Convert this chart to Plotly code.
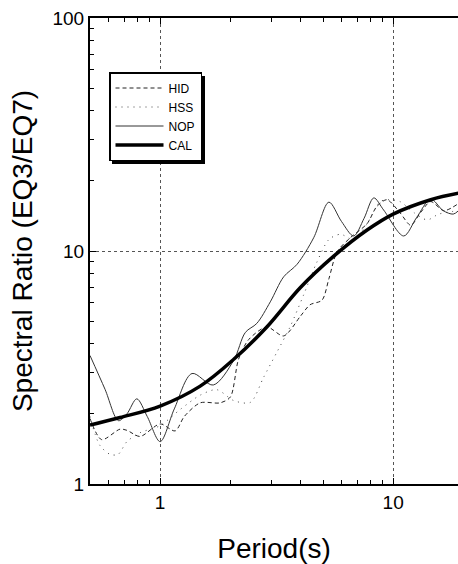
import math
import plotly.graph_objects as go

# Spectral ratio EQ3/EQ7 versus period (s) for three stations and the calculated curve
period_hid = [0.5, 0.561, 0.673, 0.72, 0.82, 1.0, 1.16, 1.27, 1.486, 1.81, 2.0, 2.17, 2.4, 2.87, 3.39, 4.0, 4.4, 4.95, 5.3, 5.75, 6.55, 7.73, 8.5, 9.4, 10.7, 11.9, 13.1, 14.5, 16.5, 19.1]
ratio_hid = [1.91, 1.55, 1.72, 1.70, 1.60, 1.81, 1.69, 1.95, 2.23, 2.23, 2.36, 3.43, 4.17, 4.72, 4.32, 5.25, 5.88, 6.15, 7.6, 9.93, 11.4, 13.1, 15.5, 16.6, 14.6, 12.9, 14.6, 16.3, 14.9, 16.0]

period_hss = [0.5, 0.55, 0.61, 0.66, 0.72, 0.82, 1.0, 1.22, 1.49, 1.75, 2.07, 2.44, 2.78, 3.17, 3.61, 4.13, 4.7, 5.3, 5.94, 6.77, 7.73, 8.8, 9.6, 10.7, 12.3, 14.0, 15.7, 19.1]
ratio_hss = [1.95, 1.47, 1.34, 1.34, 1.52, 1.66, 1.78, 2.09, 2.41, 2.54, 2.28, 2.24, 2.87, 3.68, 4.72, 6.49, 8.93, 11.2, 11.8, 11.2, 13.1, 16.3, 16.6, 16.3, 14.6, 13.6, 14.4, 14.9]

period_nop = [0.5, 0.58, 0.662, 0.72, 0.794, 0.88, 1.0, 1.15, 1.37, 1.69, 2.07, 2.32, 2.6, 2.97, 3.39, 3.87, 4.56, 5.3, 6.0, 6.77, 7.5, 8.26, 9.1, 11.1, 12.6, 14.5, 16.4, 18.1, 19.1]
ratio_nop = [3.56, 2.55, 1.87, 2.0, 2.32, 1.95, 1.52, 2.1, 2.98, 2.66, 3.4, 4.47, 4.89, 6.05, 7.75, 8.77, 11.4, 16.2, 13.4, 11.6, 13.8, 16.9, 15.0, 11.6, 13.9, 16.7, 14.9, 14.4, 14.9]

period_cal = [0.5, 0.673, 1.0, 1.486, 2.07, 2.87, 4.0, 5.56, 7.73, 10.0, 14.5, 19.1]
ratio_cal = [1.79, 1.93, 2.16, 2.63, 3.43, 4.72, 6.97, 9.5, 12.3, 14.4, 16.6, 17.7]

x_ticks = [1, 10]
y_ticks = [1, 10, 100]
minor_vals = [k * 10 ** e for e in (-1, 0, 1) for k in range(2, 10)]

FONT = "Liberation Sans, Arial, sans-serif"

fig = go.Figure()
fig.add_trace(go.Scatter(x=period_hid, y=ratio_hid, name="HID", mode="lines",
                         line=dict(color="#222", width=1, dash="4px,3px", shape="spline", smoothing=0.8)))
fig.add_trace(go.Scatter(x=period_hss, y=ratio_hss, name="HSS", mode="lines",
                         line=dict(color="#444", width=1, dash="1px,5px", shape="spline", smoothing=0.8)))
fig.add_trace(go.Scatter(x=period_nop, y=ratio_nop, name="NOP", mode="lines",
                         line=dict(color="#333", width=1, shape="spline", smoothing=0.9)))
fig.add_trace(go.Scatter(x=period_cal, y=ratio_cal, name="CAL", mode="lines",
                         line=dict(color="black", width=3.5, shape="spline", smoothing=1.0)))

# legend drop shadow (plot area: x 90..458 px, y 18..484 px)
def px_x(p):
    return (p - 90) / 368

def px_y(p):
    return (484 - p) / 466

fig.add_shape(type="rect", xref="paper", yref="paper",
              x0=px_x(112), x1=px_x(205), y0=px_y(164), y1=px_y(76),
              fillcolor="black", line=dict(width=0), layer="above")

axis_common = dict(
    type="log", showline=True, linecolor="black", linewidth=2,
    ticks="inside", ticklen=6, tickwidth=1, tickcolor="black",
    showgrid=True, gridcolor="#555", griddash="dot", gridwidth=1,
    zeroline=False, tickfont=dict(family=FONT, size=19, color="black"),
    minor=dict(tickmode="array", tickvals=minor_vals, ticks="inside", ticklen=4,
               tickcolor="black", showgrid=False),
)

fig.update_layout(
    width=458, height=564,
    margin=dict(l=90, r=0, t=18, b=80),
    paper_bgcolor="white", plot_bgcolor="white",
    font=dict(family=FONT, color="black"),
    showlegend=True,
    legend=dict(x=px_x(109), y=px_y(72), xanchor="left", yanchor="top",
                bgcolor="white", bordercolor="black", borderwidth=1.5,
                font=dict(family=FONT, size=12, color="black"),
                itemwidth=48, tracegroupgap=0),
    xaxis=dict(axis_common, range=[math.log10(0.5), math.log10(0.5) + 368 / 233],
               tickmode="array", tickvals=x_ticks, ticktext=[str(v) for v in x_ticks],
               mirror="allticks",
               title=dict(text="Period(s)", font=dict(family=FONT, size=28), standoff=30)),
    yaxis=dict(axis_common, range=[0, 2],
               tickmode="array", tickvals=y_ticks, ticktext=[str(v) for v in y_ticks],
               mirror=False,
               title=dict(text="Spectral Ratio (EQ3/EQ7)", font=dict(family=FONT, size=28), standoff=12)),
)

fig.write_html("out.html")
